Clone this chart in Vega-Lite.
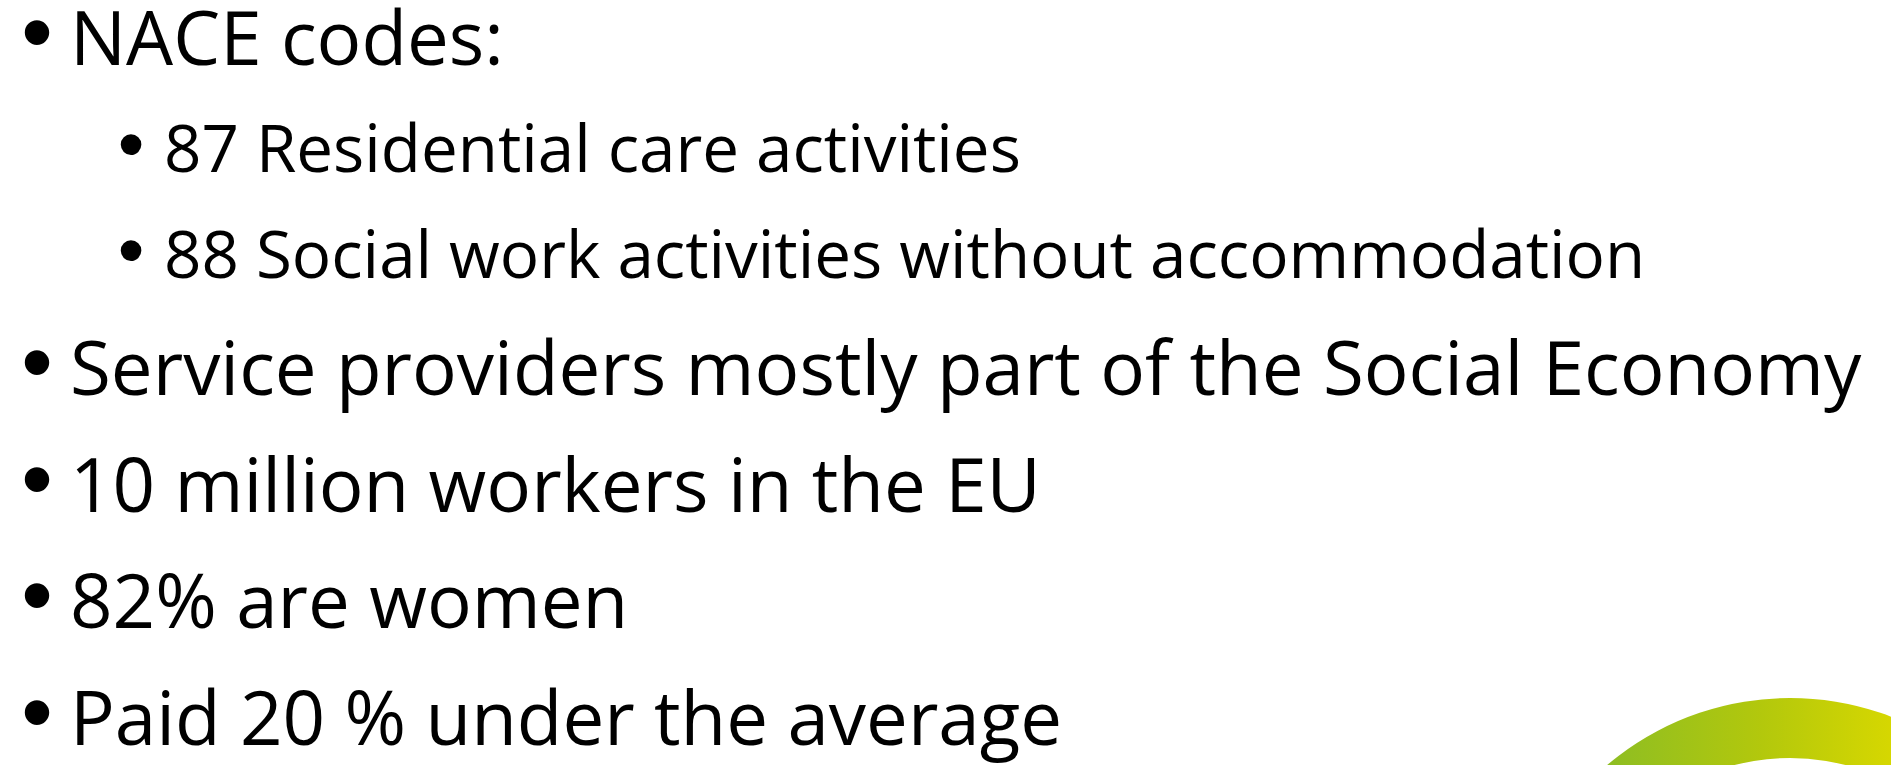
{
  "$schema": "https://vega.github.io/schema/vega-lite/v6.json",
  "width": 1891,
  "height": 765,
  "autosize": {"type": "none"},
  "padding": 0,
  "background": "#ffffff",
  "config": {"view": {"stroke": null}},
  "resolve": {"scale": {"size": "independent"}},
  "datasets": {
    "lines": [
      {"order": 0, "level": 1, "text": "NACE codes:"},
      {"order": 1, "level": 2, "text": "87 Residential care activities"},
      {"order": 2, "level": 2, "text": "88 Social work activities without accommodation"},
      {"order": 3, "level": 1, "text": "Service providers mostly part of the Social Economy"},
      {"order": 4, "level": 1, "text": "10 million workers in the EU"},
      {"order": 5, "level": 1, "text": "82% are women"},
      {"order": 6, "level": 1, "text": "Paid 20 % under the average"}
    ],
    "logo": [{"part": "swoosh", "share": 1}]
  },
  "layer": [
    {
      "data": {"name": "logo"},
      "mark": {
        "type": "arc",
        "radius": 283,
        "radius2": 223,
        "theta": -1.3,
        "theta2": 1.3,
        "fill": {
          "gradient": "linear",
          "x1": 0, "y1": 0, "x2": 1, "y2": 0,
          "stops": [
            {"offset": 0, "color": "#7fb82a"},
            {"offset": 0.15, "color": "#8cbd24"},
            {"offset": 0.45, "color": "#b3c80c"},
            {"offset": 0.7, "color": "#d8d800"},
            {"offset": 1, "color": "#e6dc00"}
          ]
        }
      },
      "encoding": {
        "x": {"value": 1790},
        "y": {"value": 981}
      }
    },
    {
      "data": {"name": "lines"},
      "mark": {"type": "text", "align": "center", "baseline": "alphabetic", "font": "Liberation Sans", "color": "#000000", "dx": -33, "dy": -2},
      "encoding": {
        "x": {"field": "level", "type": "quantitative", "scale": {"domain": [1, 2], "range": [70, 164]}, "axis": null},
        "y": {"field": "order", "type": "quantitative", "scale": {"domain": [0, 2, 6], "range": [65, 278, 745]}, "axis": null},
        "size": {"field": "level", "type": "quantitative", "scale": {"domain": [1, 2], "range": [90, 76]}, "legend": null},
        "text": {"value": "•"}
      }
    },
    {
      "data": {"name": "lines"},
      "mark": {"type": "text", "align": "left", "baseline": "alphabetic", "font": "Open Sans", "color": "#000000"},
      "encoding": {
        "x": {"field": "level", "type": "quantitative", "scale": {"domain": [1, 2], "range": [70, 164]}, "axis": null},
        "y": {"field": "order", "type": "quantitative", "scale": {"domain": [0, 2, 6], "range": [65, 278, 745]}, "axis": null},
        "size": {"field": "level", "type": "quantitative", "scale": {"domain": [1, 2], "range": [74.5, 65.5]}, "legend": null},
        "text": {"field": "text"}
      }
    }
  ]
}
